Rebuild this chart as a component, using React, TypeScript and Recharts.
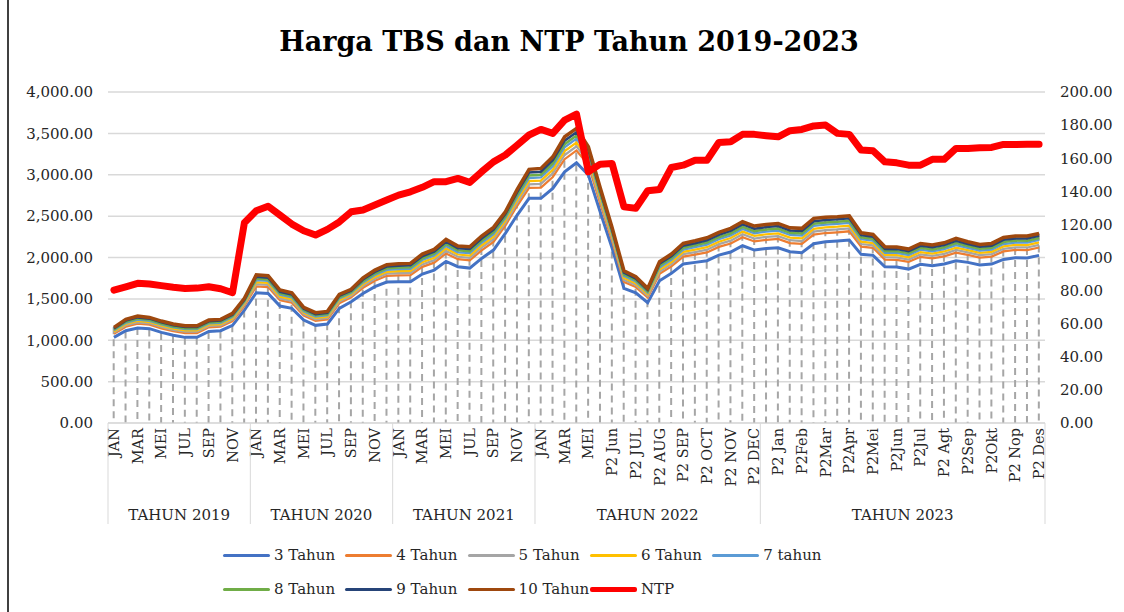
import { ComposedChart, Line, Bar, XAxis, YAxis, CartesianGrid } from "recharts";

const months = [
  "JAN", "FEB", "MAR", "APR", "MEI", "JUN", "JUL", "AGT", "SEP", "OKT", "NOV", "DES",
  "JAN", "FEB", "MAR", "APR", "MEI", "JUN", "JUL", "AGT", "SEP", "OKT", "NOV", "DES",
  "JAN", "FEB", "MAR", "APR", "MEI", "JUN", "JUL", "AGT", "SEP", "OKT", "NOV", "DES",
  "JAN", "FEB", "MAR", "APR", "MEI", "P1 Jun", "P2 Jun", "P1 JUL", "P2 JUL", "P1 AUG", "P2 AUG",
  "P1 SEP", "P2 SEP", "P1 OCT", "P2 OCT", "P1 NOV", "P2 NOV", "P1 DEC", "P2 DEC",
  "P1 Jan", "P2 Jan", "P1Feb", "P2Feb", "P1Mar", "P2Mar", "P1Apr", "P2Apr", "P1Mei", "P2Mei",
  "P1Jun", "P2Jun", "P1Jul", "P2Jul", "P1 Agt", "P2 Agt", "P1Sep", "P2Sep", "P1Okt", "P2Okt",
  "P1 Nop", "P2 Nop", "P1 Des", "P2 Des",
];

const yearLabels = ["TAHUN 2019", "TAHUN 2020", "TAHUN 2021", "TAHUN 2022", "TAHUN 2023"];
const yearCounts = [12, 12, 12, 19, 24];

const t3 = [
  1035, 1115, 1148, 1140, 1095, 1060, 1035, 1036, 1107, 1115, 1180, 1365,
  1574, 1566, 1413, 1385, 1244, 1180, 1196, 1385, 1466, 1566, 1647, 1703,
  1707, 1707, 1800, 1848, 1953, 1889, 1872, 1989, 2090, 2292, 2513, 2715,
  2715, 2835, 3036, 3145, 2996, 2549, 2114, 1627, 1574, 1453, 1719, 1808, 1921, 1941, 1961, 2029, 2066, 2142, 2090,
  2110, 2118, 2070, 2058, 2166, 2190, 2199, 2211, 2038, 2026, 1888, 1885, 1860, 1917, 1900, 1921, 1961, 1941, 1909, 1921, 1977, 1997, 1993, 2026,
];
const t4 = [
  1079, 1164, 1200, 1189, 1144, 1109, 1086, 1086, 1156, 1164, 1232, 1416,
  1652, 1643, 1483, 1453, 1299, 1235, 1251, 1446, 1520, 1634, 1719, 1779,
  1785, 1787, 1887, 1938, 2049, 1979, 1965, 2086, 2189, 2386, 2625, 2841,
  2845, 2973, 3188, 3294, 3119, 2655, 2204, 1704, 1643, 1516, 1802, 1892, 2011, 2035, 2061, 2128, 2169, 2246, 2194,
  2214, 2224, 2174, 2164, 2277, 2296, 2305, 2317, 2132, 2117, 1975, 1972, 1947, 2008, 1990, 2014, 2058, 2031, 1999, 2011, 2073, 2091, 2089, 2121,
];
const t5 = [
  1093, 1181, 1217, 1205, 1161, 1125, 1103, 1103, 1173, 1181, 1250, 1433,
  1678, 1669, 1506, 1476, 1317, 1253, 1269, 1467, 1538, 1657, 1743, 1804,
  1812, 1814, 1916, 1968, 2081, 2009, 1996, 2119, 2222, 2417, 2662, 2883,
  2889, 3018, 3239, 3344, 3160, 2690, 2234, 1729, 1667, 1537, 1829, 1920, 2041, 2066, 2094, 2161, 2203, 2281, 2229,
  2249, 2259, 2209, 2199, 2313, 2332, 2340, 2352, 2163, 2147, 2004, 2002, 1976, 2038, 2020, 2044, 2091, 2061, 2029, 2041, 2105, 2123, 2121, 2153,
];
const t6 = [
  1106, 1196, 1233, 1220, 1176, 1140, 1118, 1118, 1188, 1196, 1266, 1448,
  1702, 1692, 1527, 1497, 1334, 1270, 1286, 1485, 1554, 1678, 1766, 1827,
  1836, 1838, 1943, 1996, 2110, 2036, 2024, 2148, 2252, 2446, 2696, 2922,
  2929, 3060, 3286, 3390, 3198, 2722, 2262, 1753, 1688, 1556, 1855, 1946, 2068, 2095, 2125, 2191, 2235, 2313, 2261,
  2281, 2291, 2241, 2231, 2347, 2364, 2372, 2384, 2192, 2175, 2031, 2028, 2003, 2066, 2048, 2073, 2120, 2089, 2056, 2068, 2134, 2152, 2150, 2182,
];
const t7 = [
  1120, 1211, 1249, 1235, 1191, 1155, 1134, 1133, 1203, 1211, 1282, 1464,
  1726, 1716, 1549, 1517, 1351, 1287, 1303, 1504, 1570, 1698, 1788, 1850,
  1860, 1862, 1969, 2023, 2139, 2063, 2053, 2178, 2282, 2475, 2730, 2960,
  2968, 3102, 3332, 3436, 3235, 2755, 2289, 1776, 1709, 1575, 1880, 1972, 2095, 2124, 2156, 2221, 2266, 2345, 2293,
  2313, 2324, 2272, 2264, 2381, 2397, 2405, 2417, 2221, 2203, 2057, 2055, 2029, 2094, 2075, 2101, 2150, 2116, 2083, 2095, 2163, 2180, 2179, 2212,
];
const t8 = [
  1131, 1223, 1262, 1247, 1203, 1167, 1146, 1146, 1215, 1223, 1295, 1476,
  1745, 1735, 1566, 1534, 1365, 1301, 1317, 1519, 1584, 1715, 1806, 1869,
  1879, 1882, 1991, 2046, 2163, 2086, 2076, 2202, 2306, 2498, 2758, 2992,
  3001, 3137, 3370, 3473, 3266, 2781, 2312, 1795, 1726, 1590, 1901, 1993, 2118, 2147, 2181, 2245, 2292, 2371, 2319,
  2339, 2350, 2298, 2290, 2409, 2423, 2431, 2443, 2244, 2226, 2079, 2077, 2051, 2117, 2098, 2124, 2174, 2139, 2106, 2118, 2187, 2204, 2203, 2235,
];
const t9 = [
  1143, 1237, 1276, 1261, 1217, 1181, 1160, 1160, 1229, 1237, 1309, 1490,
  1767, 1756, 1586, 1553, 1380, 1316, 1332, 1536, 1599, 1734, 1826, 1890,
  1901, 1905, 2015, 2071, 2190, 2111, 2102, 2229, 2334, 2524, 2789, 3027,
  3037, 3175, 3412, 3514, 3300, 2811, 2337, 1817, 1746, 1608, 1924, 2016, 2143, 2173, 2208, 2273, 2321, 2400, 2348,
  2368, 2380, 2327, 2320, 2439, 2453, 2461, 2473, 2270, 2251, 2103, 2101, 2075, 2142, 2123, 2150, 2201, 2164, 2131, 2143, 2214, 2230, 2230, 2262,
];
const t10 = [
  1156, 1252, 1292, 1276, 1232, 1196, 1176, 1175, 1244, 1252, 1325, 1506,
  1791, 1780, 1607, 1574, 1397, 1333, 1349, 1555, 1615, 1755, 1848, 1913,
  1925, 1929, 2042, 2098, 2219, 2138, 2130, 2259, 2364, 2553, 2823, 3065,
  3077, 3217, 3459, 3560, 3338, 2843, 2364, 1840, 1767, 1627, 1949, 2042, 2170, 2202, 2239, 2303, 2352, 2432, 2380,
  2400, 2412, 2359, 2352, 2473, 2485, 2493, 2505, 2299, 2279, 2130, 2128, 2102, 2170, 2150, 2178, 2231, 2191, 2158, 2170, 2243, 2259, 2259, 2291,
];
const ntp = [
  80.3, 82.3, 84.4, 84.0, 83.0, 82.0, 81.3, 81.5, 82.3, 81.1, 78.7, 121.0,
  128.2, 131.0, 125.6, 120.2, 116.2, 113.6, 117.0, 121.5, 127.6, 128.7, 131.7, 134.7,
  137.7, 139.7, 142.4, 145.8, 145.8, 147.8, 145.4, 151.8, 157.8, 161.9, 167.9, 174.0,
  177.4, 175.0, 183.0, 186.6, 151.8, 156.4, 156.8, 130.6, 129.7, 140.3, 141.1, 154.4, 155.8, 158.8, 158.8, 169.5, 169.9, 174.4, 174.4,
  173.6, 172.9, 176.6, 177.4, 179.5, 180.0, 175.0, 174.4, 164.9, 164.5, 157.8, 157.2, 155.8, 155.8, 159.3, 159.3, 165.9, 165.9, 166.3, 166.5, 168.3, 168.3, 168.5, 168.5,
];

const leftTicks = [0, 500, 1000, 1500, 2000, 2500, 3000, 3500, 4000];
const rightTicks = [0, 20, 40, 60, 80, 100, 120, 140, 160, 180, 200];

const series = [
  { key: "t3", name: "3 Tahun", color: "#4472C4", width: 3 },
  { key: "t4", name: "4 Tahun", color: "#ED7D31", width: 2.25 },
  { key: "t5", name: "5 Tahun", color: "#A5A5A5", width: 2.25 },
  { key: "t6", name: "6 Tahun", color: "#FFC000", width: 2.25 },
  { key: "t7", name: "7 tahun", color: "#5B9BD5", width: 2.25 },
  { key: "t8", name: "8 Tahun", color: "#70AD47", width: 2.5 },
  { key: "t9", name: "9 Tahun", color: "#264478", width: 2.5 },
  { key: "t10", name: "10 Tahun", color: "#9E480E", width: 3.5 },
];

const data = months.map((m, i) => ({
  month: m,
  t3: t3[i], t4: t4[i], t5: t5[i], t6: t6[i], t7: t7[i], t8: t8[i], t9: t9[i], t10: t10[i],
  ntp: ntp[i],
}));

const FONT = "'DejaVu Serif', serif";
const fmt = (v: number) => v.toLocaleString("en-US", { minimumFractionDigits: 2, maximumFractionDigits: 2 });

const groupStarts: number[] = [];
yearCounts.reduce((acc, c) => { groupStarts.push(acc); return acc + c; }, 0);

const MONTH_AXIS_H = 75;

function MonthTick(props: any) {
  const { x, y, payload } = props;
  return (
    <text x={x} y={y} transform={`rotate(-90, ${x}, ${y})`} textAnchor="end" dominantBaseline="central"
      fontFamily={FONT} fontSize={14.5} fill="#262626">
      {payload.value}
    </text>
  );
}

function YearTick(props: any) {
  const { x, y, index, width } = props;
  const step = (width || 937) / months.length;
  const g = groupStarts.indexOf(index);
  const last = index === months.length - 1;
  if (g < 0 && !last) return null;
  return (
    <g>
      {g >= 0 && (
        <>
          <line x1={x - step / 2} x2={x - step / 2} y1={y - MONTH_AXIS_H} y2={y + 26} stroke="#d9d9d9" strokeWidth={1} />
          <text x={x + ((yearCounts[g] - 1) * step) / 2} y={y + 17} textAnchor="middle" dominantBaseline="central"
            fontFamily={FONT} fontSize={15} fill="#262626">
            {yearLabels[g]}
          </text>
        </>
      )}
      {last && <line x1={x + step / 2} x2={x + step / 2} y1={y - MONTH_AXIS_H} y2={y + 26} stroke="#d9d9d9" strokeWidth={1} />}
    </g>
  );
}

function DropLine(props: any) {
  const { x, y, width, height } = props;
  if (height == null || isNaN(height)) return null;
  const cx = x + width / 2;
  return <line x1={cx} x2={cx} y1={y} y2={y + height} stroke="#a6a6a6" strokeWidth={2} strokeDasharray="7 5" />;
}

function LegendBox() {
  const items = [...series.map((s) => ({ name: s.name, color: s.color, h: 3 })), { name: "NTP", color: "#FF0000", h: 5 }];
  return (
    <div style={{ position: "absolute", left: 223, top: 538, width: 620, display: "flex", flexWrap: "wrap" }}>
      {items.map((it) => (
        <div key={it.name} style={{ width: 122.3, height: 34, display: "flex", alignItems: "center" }}>
          <span style={{ display: "inline-block", width: 47, height: it.h, background: it.color, borderRadius: 2, marginRight: 4 }} />
          <span style={{ fontFamily: FONT, fontSize: 15, color: "#262626" }}>{it.name}</span>
        </div>
      ))}
    </div>
  );
}

export default function App() {
  return (
    <div style={{ position: "absolute", left: 0, top: 0, width: 1124, height: 612, background: "#fff", overflow: "hidden" }}>
      <div style={{ position: "absolute", left: 7, top: 0, width: 2, height: 612, background: "#404040" }} />
      <div style={{ position: "absolute", left: 14, top: 26, width: 1110, textAlign: "center", fontFamily: FONT, fontWeight: "bold", fontSize: 27, lineHeight: "32px", color: "#000" }}>
        Harga TBS dan NTP Tahun 2019-2023
      </div>
      <ComposedChart width={1124} height={612} data={data} margin={{ top: 92, right: 0, bottom: 84, left: 0 }}>
        <CartesianGrid yAxisId="left" vertical={false} stroke="#d9d9d9" strokeWidth={1.5} />
        <XAxis dataKey="month" interval={1} height={MONTH_AXIS_H} tick={<MonthTick />} tickLine={false} tickSize={0} tickMargin={5}
          axisLine={{ stroke: "#d9d9d9" }} />
        <XAxis xAxisId="yr" dataKey="month" interval={0} height={30} tick={<YearTick />} tickLine={false} tickSize={0} tickMargin={0}
          axisLine={false} />
        <YAxis yAxisId="left" width={108} domain={[0, 4000]} ticks={leftTicks} tickFormatter={fmt} axisLine={false} tickLine={false}
          tickSize={0} tickMargin={15} tick={{ fontFamily: FONT, fontSize: 15, fill: "#262626" }} />
        <YAxis yAxisId="right" orientation="right" width={79} domain={[0, 200]} ticks={rightTicks} tickFormatter={fmt} axisLine={false}
          tickLine={false} tickSize={0} tickMargin={15} tick={{ fontFamily: FONT, fontSize: 15, fill: "#262626" }} />
        {series.map((s) => (
          <Line key={s.key} yAxisId="left" type="linear" dataKey={s.key} name={s.name} stroke={s.color} strokeWidth={s.width}
            dot={false} isAnimationActive={false} />
        ))}
        <Bar yAxisId="left" dataKey="t10" shape={<DropLine />} isAnimationActive={false} legendType="none" />
        <Line yAxisId="right" type="linear" dataKey="ntp" name="NTP" stroke="#FF0000" strokeWidth={7} dot={false}
          strokeLinejoin="round" strokeLinecap="round" isAnimationActive={false} />
      </ComposedChart>
      <LegendBox />
    </div>
  );
}
